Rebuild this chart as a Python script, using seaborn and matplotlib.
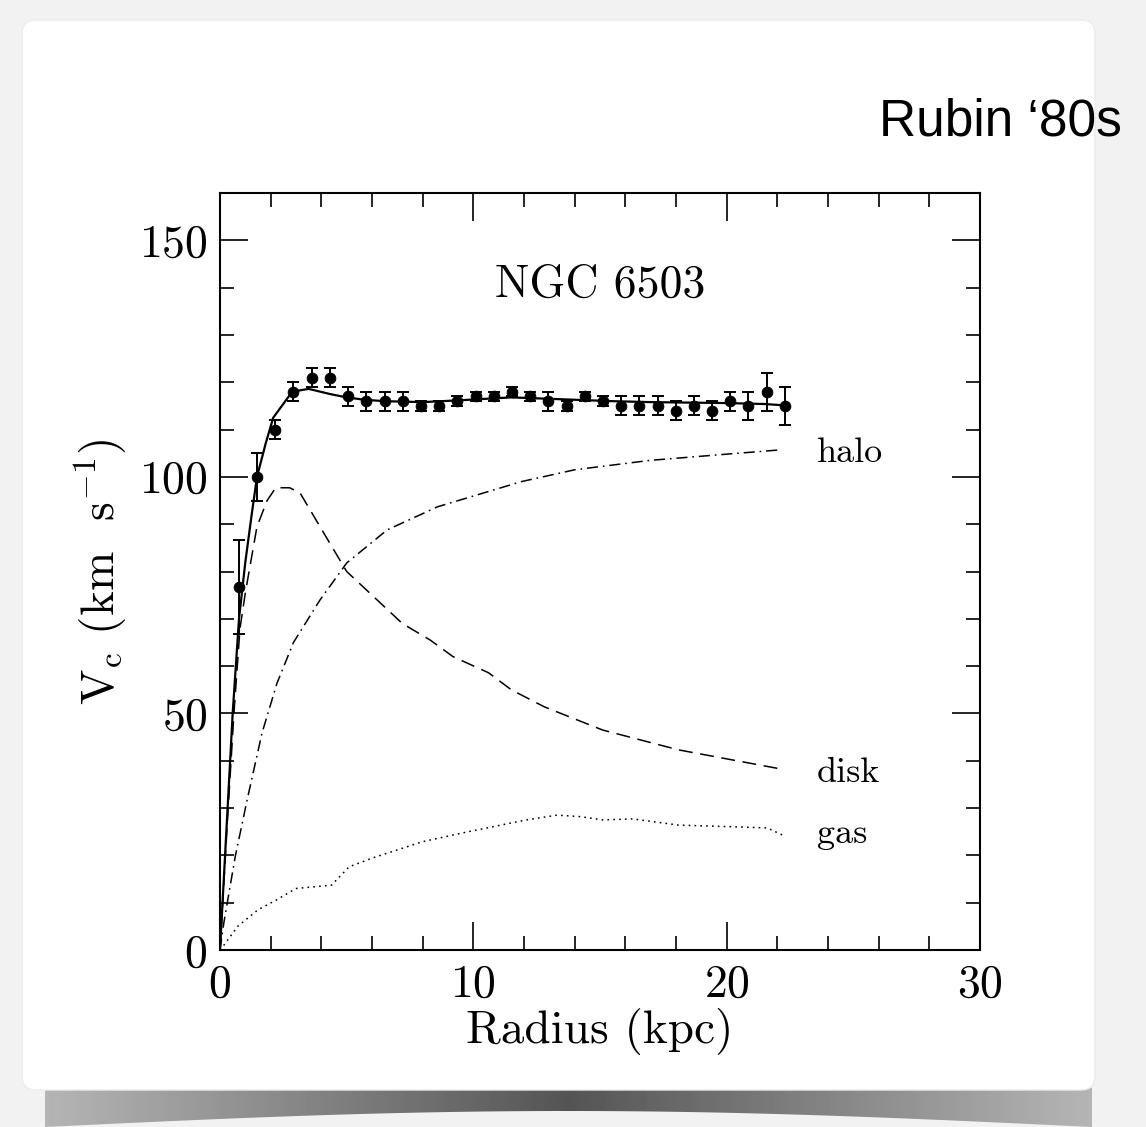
import matplotlib
matplotlib.use('Agg')
import matplotlib.pyplot as plt
from matplotlib.ticker import MultipleLocator
from matplotlib.patches import FancyBboxPatch, Polygon
import numpy as np
import seaborn as sns

# Observed rotation curve of NGC 6503 (kpc, km/s)
r_obs = [0.75, 1.47, 2.19, 2.90, 3.62, 4.34, 5.06, 5.78, 6.50, 7.21, 7.93,
         8.65, 9.37, 10.09, 10.81, 11.52, 12.24, 12.96, 13.68, 14.40, 15.12,
         15.83, 16.55, 17.27, 17.99, 18.71, 19.43, 20.14, 20.86, 21.58, 22.30]
v_obs = [76.7, 100, 110, 118, 121, 121, 117, 116, 116, 116, 115,
         115, 116, 117, 117, 118, 117, 116, 115, 117, 116,
         115, 115, 115, 114, 115, 114, 116, 115, 118, 115]
e_obs = [10, 5, 2, 2, 2, 2, 2, 2, 2, 2, 1,
         1, 1, 1, 1, 1, 1, 2, 1, 1, 1,
         2, 2, 2, 2, 2, 2, 2, 3, 4, 4]

# Model components
r_total = [0, 0.25, 0.5, 0.75, 1.0, 1.25, 1.46, 1.8, 2.1, 2.85, 3.5, 4.35, 5.0,
           5.7, 6.5, 8.0, 9.5, 10.5, 11.5, 12.5, 14, 15.5, 17, 18.5, 20, 21.5, 22.3]
v_total = [0, 25, 50, 70, 82, 92, 100, 107, 112.5, 118, 118.6, 117.5, 116.8,
           116.3, 116, 115.8, 116.2, 116.5, 116.8, 116.6, 116.3, 116, 115.8,
           115.7, 115.6, 115.4, 115.1]

r_disk = [0, 0.3, 0.55, 0.79, 1.0, 1.46, 1.86, 2.2, 2.75, 3.16, 4.0, 5.0, 5.9,
          7.2, 8.3, 9.2, 10.6, 11.5, 12.8, 15.1, 18.1, 22.1]
v_disk = [0, 28, 50, 68, 75.5, 89.5, 95, 97.7, 97.7, 96.6, 89, 80, 75.5,
          69, 65.5, 62, 58.6, 55, 51.4, 46.5, 42.3, 38.3]

r_halo = [0, 0.15, 0.6, 1.07, 1.66, 2.25, 2.9, 3.95, 5.0, 6.6, 8.6, 11.9,
          14, 17, 20, 22.1]
v_halo = [0, 5.7, 19.7, 31.7, 45.9, 56.4, 65, 74, 81.8, 88.8, 93.7, 99,
          101.5, 103.5, 104.8, 105.7]

r_gas = [0, 0.15, 0.7, 1.5, 2.2, 3.0, 4.4, 5.1, 6.05, 8.0, 9.8, 12.1, 13.3,
         14.2, 15.1, 16.3, 18.1, 20.5, 21.6, 22.2]
v_gas = [0, 1, 5, 8.5, 10.5, 13, 13.7, 17.6, 19.5, 22.9, 25, 27.5, 28.5,
         28.2, 27.5, 27.7, 26.4, 26.0, 25.8, 24.3]

sns.set_theme(style='ticks')
plt.rcParams.update({
    'font.family': ['cmr10', 'DejaVu Serif'],
    'mathtext.fontset': 'cm',
    'axes.formatter.use_mathtext': True,
    'lines.scale_dashes': False,
    'text.color': 'black',
    'axes.labelcolor': 'black',
})

fig = plt.figure(figsize=(11.46, 11.27), dpi=100)
fig.patch.set_facecolor('#f2f2f2')

# slide card backdrop (pixel coordinates)
bg = fig.add_axes([0, 0, 1, 1], zorder=0)
bg.set_xlim(0, 1146)
bg.set_ylim(1127, 0)
bg.axis('off')
xs = np.linspace(45, 1092, 200)
bottom = 1127 - 16 * np.sin(np.pi * (xs - 45) / (1092 - 45))
poly = Polygon(np.column_stack([np.r_[xs, xs[::-1]], np.r_[bottom, np.full_like(xs, 1088)]]),
               closed=True, fc='none', ec='none')
bg.add_patch(poly)
grad = 0.33 + 0.38 * np.abs(np.linspace(-1, 1, 256))
img = bg.imshow(grad[None, :], cmap='gray', vmin=0, vmax=1, aspect='auto',
                extent=[45, 1092, 1127, 1088], zorder=1)
img.set_clip_path(poly)
card = FancyBboxPatch((22, 20), 1073, 1070, boxstyle='round,pad=0,rounding_size=14',
                      fc='white', ec='#ececec', lw=1.0, zorder=2)
bg.add_patch(card)

fig.text(0.979, 1 - 136 / 1127, 'Rubin \u201880s', family='Liberation Sans',
         fontsize=37, ha='right', va='baseline', color='black')

# main panel
ax = fig.add_axes([220 / 1146, 1 - 950 / 1127, 760 / 1146, 757 / 1127], zorder=2)
ax.set_facecolor('white')

sns.lineplot(x=r_total, y=v_total, color='black', lw=1.6, ax=ax)
sns.lineplot(x=r_disk, y=v_disk, color='black', lw=1.1, ax=ax, linestyle=(0, (10, 5.5)))
sns.lineplot(x=r_halo, y=v_halo, color='black', lw=1.1, ax=ax,
             linestyle=(0, (8, 3.5, 1.2, 3.5)))
sns.lineplot(x=r_gas, y=v_gas, color='black', lw=1.1, ax=ax, linestyle=(0, (1.2, 3)))

ax.errorbar(r_obs, v_obs, yerr=e_obs, fmt='none', ecolor='black', elinewidth=1.4,
            capsize=4.5, capthick=1.4, zorder=4)
sns.scatterplot(x=r_obs, y=v_obs, color='black', s=60, edgecolor='black', ax=ax, zorder=5)

ax.text(15.0, 138, 'NGC 6503', fontsize=33, ha='center', va='baseline', color='black')
ax.text(23.57, 103.2, 'halo', fontsize=26, ha='left', va='baseline', color='black')
ax.text(23.57, 35.5, 'disk', fontsize=26, ha='left', va='baseline', color='black')
ax.text(23.57, 22.6, 'gas', fontsize=26, ha='left', va='baseline', color='black')

ax.set_xlim(0, 30)
ax.set_ylim(0, 160)
ax.set_xticks([0, 10, 20, 30])
ax.set_yticks([0, 50, 100, 150])
ax.xaxis.set_minor_locator(MultipleLocator(2))
ax.yaxis.set_minor_locator(MultipleLocator(10))
ax.tick_params(which='both', direction='in', top=True, right=True, color='black',
               width=1.2, labelsize=33, labelcolor='black')
ax.tick_params(which='major', length=20)
ax.tick_params(which='minor', length=10)
ax.tick_params(axis='x', pad=10)
ax.tick_params(axis='y', pad=9)
for sp in ax.spines.values():
    sp.set_visible(True)
    sp.set_color('black')
    sp.set_linewidth(1.5)

ax.set_xlabel('Radius (kpc)', fontsize=34, color='black', labelpad=2)
ax.set_ylabel(r'V$_{\rm c}$ (km  s$^{-1}$)', fontsize=34, color='black', labelpad=6)

fig.savefig('out.png', dpi=100, facecolor=fig.get_facecolor())
